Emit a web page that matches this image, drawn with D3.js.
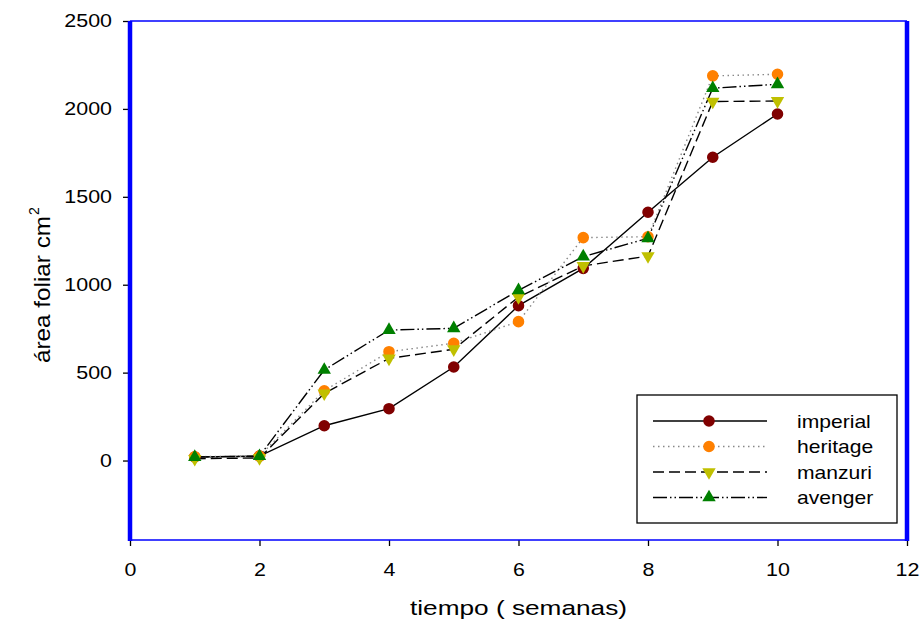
<!DOCTYPE html>
<html><head><meta charset="utf-8">
<script src="https://cdn.jsdelivr.net/npm/d3@7"></script>
<style>body{margin:0;background:#fff;} svg{display:block;font-family:"Liberation Sans",Arial,sans-serif;}</style>
</head><body>
<svg id="c" width="924" height="625"></svg>
<script>
const weeks = [1,2,3,4,5,6,7,8,9,10];
const imperial = [20,25,198,295,532,881,1093,1412,1725,1971];
const heritage = [22,25,397,619,667,790,1268,1273,2188,2197];
const manzuri  = [10,15,382,581,633,930,1107,1163,2042,2045];
const avenger  = [20,25,515,742,752,968,1160,1264,2118,2140];
const xTicks = [0,2,4,6,8,10,12];
const yTicks = [0,500,1000,1500,2000,2500];
const seriesNames = ["imperial","heritage","manzuri","avenger"];

const series = [
  {name:"imperial", values:imperial, color:"#800000", dash:null, lineColor:"#000", sym:"circle"},
  {name:"heritage", values:heritage, color:"#FF8000", dash:"1.5,3.5", lineColor:"#888", sym:"circle"},
  {name:"manzuri", values:manzuri, color:"#C0C000", dash:"11,5", lineColor:"#000", sym:"down"},
  {name:"avenger", values:avenger, color:"#008000", dash:"14,3,1.5,3,1.5,3", lineColor:"#000", sym:"up"}
];

function stretch(sel, f){
  sel.each(function(){
    const w = this.getComputedTextLength();
    this.setAttribute("textLength", (w*f).toFixed(1));
    this.setAttribute("lengthAdjust","spacingAndGlyphs");
  });
}

const svg = d3.select("#c");
const L=130, R=907, T=21, B=540;
const x = d3.scaleLinear().domain([0,12]).range([L,R]);
const y = d3.scaleLinear().domain([-452,2500]).range([B,T]);

// axes
const xa = svg.append("g").attr("transform",`translate(0,${B})`)
  .call(d3.axisBottom(x).tickValues(xTicks).tickSize(6).tickPadding(17).tickFormat(d3.format("d")));
const ya = svg.append("g").attr("transform",`translate(${L},0)`)
  .call(d3.axisLeft(y).tickValues(yTicks).tickSize(7).tickPadding(11).tickFormat(d3.format("d")));
[xa,ya].forEach(a=>{
  a.select(".domain").remove();
  a.selectAll(".tick line").attr("stroke","#000").attr("stroke-width",1.3);
  a.selectAll(".tick text").attr("fill","#000").style("font-size","18.5px").style("font-family","'Liberation Sans',Arial,sans-serif");
  stretch(a.selectAll(".tick text"), 1.16);
});

// frame
svg.append("line").attr("x1",L).attr("x2",R).attr("y1",T).attr("y2",T).attr("stroke","#0000FF").attr("stroke-width",1.5);
svg.append("line").attr("x1",L).attr("x2",R).attr("y1",B).attr("y2",B).attr("stroke","#0000FF").attr("stroke-width",1.5);
svg.append("line").attr("x1",L).attr("x2",L).attr("y1",T).attr("y2",B+1).attr("stroke","#0000FF").attr("stroke-width",4.5);
svg.append("line").attr("x1",R).attr("x2",R).attr("y1",T).attr("y2",B+1).attr("stroke","#0000FF").attr("stroke-width",4.5);

const line = d3.line().x((d,i)=>x(weeks[i])).y(d=>y(d));
function symPath(s){
  if(s==="circle") return d3.symbol().type(d3.symbolCircle).size(105)();
  return d3.symbol().type(d3.symbolTriangle).size(78)();
}
function drawMarker(g,s,cx,cy){
  const p = g.append("path").attr("d",symPath(s.sym)).attr("fill",s.color);
  let tr = `translate(${cx},${cy})`;
  if(s.sym==="down") tr += " rotate(180)";
  p.attr("transform",tr);
}

series.forEach(s=>{
  svg.append("path").datum(s.values).attr("d",line).attr("fill","none")
    .attr("stroke",s.lineColor).attr("stroke-width",1.4)
    .attr("stroke-dasharray",s.dash);
});
series.forEach(s=>{
  const g = svg.append("g");
  s.values.forEach((v,i)=>drawMarker(g,s,x(weeks[i]),y(v)));
});

// legend
const lg = svg.append("g");
lg.append("rect").attr("x",637).attr("y",395).attr("width",260).attr("height",128)
  .attr("fill","#fff").attr("stroke","#000").attr("stroke-width",1.3);
series.forEach((s,i)=>{
  const ly = 421 + i*25.5;
  lg.append("line").attr("x1",653).attr("x2",767).attr("y1",ly).attr("y2",ly)
    .attr("stroke",s.lineColor).attr("stroke-width",1.4).attr("stroke-dasharray",s.dash);
  drawMarker(lg,s,709,ly);
  const t = lg.append("text").attr("x",797).attr("y",ly).attr("dy","0.35em")
    .style("font-size","19px").attr("fill","#000").text(seriesNames[i]);
  stretch(t, 1.11);
});

// titles
svg.append("text").attr("x",410).attr("y",615)
  .style("font-size","20.5px").attr("fill","#000")
  .attr("textLength",217).attr("lengthAdjust","spacingAndGlyphs")
  .text("tiempo ( semanas)");
const yg = svg.append("g").attr("transform","translate(50,363) rotate(-90)");
yg.append("text").attr("x",0).attr("y",0).style("font-size","22.5px").attr("fill","#000")
  .attr("textLength",147).attr("lengthAdjust","spacingAndGlyphs").text("área foliar cm");
yg.append("text").attr("x",148).attr("y",-11).style("font-size","14px").attr("fill","#000").text("2");
</script>
</body></html>
